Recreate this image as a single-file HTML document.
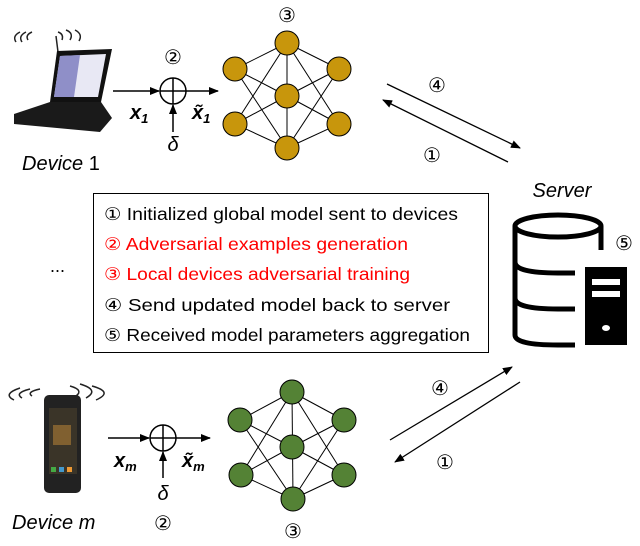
<!DOCTYPE html>
<html><head><style>
body{margin:0;background:#fff}
svg{display:block}
text{font-family:"Liberation Sans","DejaVu Sans",sans-serif}
</style></head><body>
<svg width="640" height="546" viewBox="0 0 640 546" xmlns="http://www.w3.org/2000/svg">
<defs>
<marker id="ah" markerWidth="10" markerHeight="8" refX="9" refY="4" orient="auto" markerUnits="userSpaceOnUse">
<path d="M0,0 L10,4 L0,8 z" fill="#000"/></marker>
</defs>
<!-- laptop -->
<g fill="none" stroke="#222" stroke-width="1.5">
<path d="M16,42 q-4,-6 4,-10"/><path d="M22,42 q-4,-6 4,-10"/><path d="M28,40 q-3,-5 4,-8"/>
<path d="M58,32 q6,2 4,8"/><path d="M66,30 q8,3 4,10"/><path d="M75,30 q8,4 4,11"/>
</g>
<line x1="56" y1="36" x2="58" y2="52" stroke="#222" stroke-width="1.5"/>
<polygon points="57,51 112,49 101,102 50,102" fill="#111"/>
<polygon points="60,56 106,54 98,97 54,97" fill="#e8e8f4"/>
<polygon points="60,56 80,55 74,97 54,97" fill="#8f8fc8"/>
<polygon points="50,102 101,102 112,118 100,132 14,124 14,114" fill="#1a1a1a"/>
<!-- top flow -->
<line x1="113" y1="91" x2="159" y2="91" stroke="#000" stroke-width="1.5" marker-end="url(#ah)"/>
<circle cx="173" cy="91" r="13" fill="none" stroke="#000" stroke-width="1.5"/>
<line x1="160" y1="91" x2="186" y2="91" stroke="#000" stroke-width="1.5"/>
<line x1="173" y1="78" x2="173" y2="104" stroke="#000" stroke-width="1.5"/>
<line x1="186" y1="91" x2="218" y2="91" stroke="#000" stroke-width="1.5" marker-end="url(#ah)"/>
<line x1="173" y1="132" x2="173" y2="105" stroke="#000" stroke-width="1.5" marker-end="url(#ah)"/>
<text x="173" y="64" font-size="20" text-anchor="middle">②</text>
<text x="130" y="119" font-size="20" font-weight="bold" font-family="Liberation Serif" font-style="italic">x<tspan font-size="13" dy="4">1</tspan></text>
<text x="192" y="119" font-size="20" font-weight="bold" font-family="Liberation Serif" font-style="italic">x̃<tspan font-size="13" dy="4">1</tspan></text>
<text x="173" y="151" font-size="20" font-family="Liberation Serif" font-style="italic" text-anchor="middle">δ</text>
<text x="22" y="170" font-size="20" font-style="italic">Device <tspan font-style="normal">1</tspan></text>
<!-- top NN -->
<g stroke="#000" stroke-width="1">
<line x1="235" y1="69" x2="287" y2="43"/><line x1="235" y1="69" x2="287" y2="96"/><line x1="235" y1="69" x2="287" y2="148"/>
<line x1="235" y1="124" x2="287" y2="43"/><line x1="235" y1="124" x2="287" y2="96"/><line x1="235" y1="124" x2="287" y2="148"/>
<line x1="339" y1="69" x2="287" y2="43"/><line x1="339" y1="69" x2="287" y2="96"/><line x1="339" y1="69" x2="287" y2="148"/>
<line x1="339" y1="124" x2="287" y2="43"/><line x1="339" y1="124" x2="287" y2="96"/><line x1="339" y1="124" x2="287" y2="148"/>
<line x1="287" y1="43" x2="287" y2="148"/>
</g>
<g fill="#c8960c" stroke="#000" stroke-width="1">
<circle cx="235" cy="69" r="12"/><circle cx="235" cy="124" r="12"/>
<circle cx="287" cy="43" r="12"/><circle cx="287" cy="96" r="12"/><circle cx="287" cy="148" r="12"/>
<circle cx="339" cy="69" r="12"/><circle cx="339" cy="124" r="12"/>
</g>
<text x="287" y="22" font-size="20" text-anchor="middle">③</text>
<!-- top arrows -->
<line x1="387" y1="84" x2="520" y2="148" stroke="#000" stroke-width="1.3" marker-end="url(#ah)"/>
<line x1="508" y1="162" x2="383" y2="100" stroke="#000" stroke-width="1.3" marker-end="url(#ah)"/>
<text x="437" y="92" font-size="20" text-anchor="middle">④</text>
<text x="432" y="162" font-size="20" text-anchor="middle">①</text>
<!-- box -->
<rect x="93.5" y="193.5" width="395" height="159" fill="none" stroke="#000" stroke-width="1"/>
<g font-size="17.5">
<text x="104" y="220" textLength="354" lengthAdjust="spacingAndGlyphs">① Initialized global model sent to devices</text>
<text x="104" y="250" fill="#f00" textLength="304" lengthAdjust="spacingAndGlyphs">② Adversarial examples generation</text>
<text x="104" y="280" fill="#f00" textLength="306" lengthAdjust="spacingAndGlyphs">③ Local devices adversarial training</text>
<text x="104" y="311" textLength="346" lengthAdjust="spacingAndGlyphs">④ Send updated model back to server</text>
<text x="104" y="341" textLength="366" lengthAdjust="spacingAndGlyphs">⑤ Received model parameters aggregation</text>
</g>
<text x="50" y="272" font-size="18">...</text>
<!-- server -->
<text x="562" y="197" font-size="20" font-style="italic" text-anchor="middle">Server</text>
<g fill="none" stroke="#000" stroke-width="5">
<ellipse cx="558" cy="226" rx="43" ry="11"/>
<path d="M515,226 V335 Q515,345 558,345 H575"/>
<path d="M601,226 V250"/>
<path d="M515,262 Q515,273 558,273 H575"/>
<path d="M515,298 Q515,309 558,309 H575"/>
</g>
<rect x="585" y="267" width="42" height="78" fill="#000"/>
<rect x="592" y="279" width="28" height="6" fill="#fff"/>
<rect x="592" y="291" width="28" height="6" fill="#fff"/>
<ellipse cx="606" cy="328" rx="4" ry="3" fill="#fff"/>
<text x="624" y="250" font-size="20" text-anchor="middle">⑤</text>
<!-- bottom arrows -->
<line x1="390" y1="440" x2="512" y2="367" stroke="#000" stroke-width="1.3" marker-end="url(#ah)"/>
<line x1="520" y1="382" x2="395" y2="462" stroke="#000" stroke-width="1.3" marker-end="url(#ah)"/>
<text x="440" y="395" font-size="20" text-anchor="middle">④</text>
<text x="445" y="469" font-size="20" text-anchor="middle">①</text>
<!-- phone -->
<g fill="none" stroke="#222" stroke-width="1.5">
<path d="M14,400 q-12,-6 6,-12"/><path d="M22,398 q-8,-5 8,-9"/><path d="M32,396 q-6,-4 8,-7"/>
<path d="M70,386 q14,4 6,10"/><path d="M80,384 q20,6 6,14"/><path d="M92,386 q22,6 4,14"/>
</g>
<rect x="44" y="395" width="37" height="98" rx="5" fill="#222"/>
<rect x="49" y="408" width="28" height="66" fill="#3a3428"/>
<rect x="53" y="425" width="18" height="20" fill="#806030"/>
<rect x="51" y="467" width="5" height="5" fill="#4a4"/><rect x="59" y="467" width="5" height="5" fill="#49c"/><rect x="67" y="467" width="5" height="5" fill="#e93"/>
<!-- bottom flow -->
<line x1="108" y1="438" x2="149" y2="438" stroke="#000" stroke-width="1.5" marker-end="url(#ah)"/>
<circle cx="163" cy="438" r="13" fill="none" stroke="#000" stroke-width="1.5"/>
<line x1="150" y1="438" x2="176" y2="438" stroke="#000" stroke-width="1.5"/>
<line x1="163" y1="425" x2="163" y2="451" stroke="#000" stroke-width="1.5"/>
<line x1="176" y1="438" x2="210" y2="438" stroke="#000" stroke-width="1.5" marker-end="url(#ah)"/>
<line x1="163" y1="478" x2="163" y2="452" stroke="#000" stroke-width="1.5" marker-end="url(#ah)"/>
<text x="114" y="467" font-size="20" font-weight="bold" font-family="Liberation Serif" font-style="italic">x<tspan font-size="13" dy="4">m</tspan></text>
<text x="182" y="467" font-size="20" font-weight="bold" font-family="Liberation Serif" font-style="italic">x̃<tspan font-size="13" dy="4">m</tspan></text>
<text x="163" y="500" font-size="20" font-family="Liberation Serif" font-style="italic" text-anchor="middle">δ</text>
<text x="163" y="530" font-size="20" text-anchor="middle">②</text>
<text x="12" y="529" font-size="20" font-style="italic">Device m</text>
<!-- bottom NN -->
<g stroke="#000" stroke-width="1">
<line x1="240" y1="420" x2="292" y2="392"/><line x1="240" y1="420" x2="292" y2="447"/><line x1="240" y1="420" x2="293" y2="499"/>
<line x1="241" y1="475" x2="292" y2="392"/><line x1="241" y1="475" x2="292" y2="447"/><line x1="241" y1="475" x2="293" y2="499"/>
<line x1="344" y1="420" x2="292" y2="392"/><line x1="344" y1="420" x2="292" y2="447"/><line x1="344" y1="420" x2="293" y2="499"/>
<line x1="344" y1="475" x2="292" y2="392"/><line x1="344" y1="475" x2="292" y2="447"/><line x1="344" y1="475" x2="293" y2="499"/>
<line x1="292" y1="392" x2="293" y2="499"/>
</g>
<g fill="#548235" stroke="#000" stroke-width="1">
<circle cx="240" cy="420" r="12"/><circle cx="241" cy="475" r="12"/>
<circle cx="292" cy="392" r="12"/><circle cx="292" cy="447" r="12"/><circle cx="293" cy="499" r="12"/>
<circle cx="344" cy="420" r="12"/><circle cx="344" cy="475" r="12"/>
</g>
<text x="293" y="538" font-size="20" text-anchor="middle">③</text>
</svg>
</body></html>
